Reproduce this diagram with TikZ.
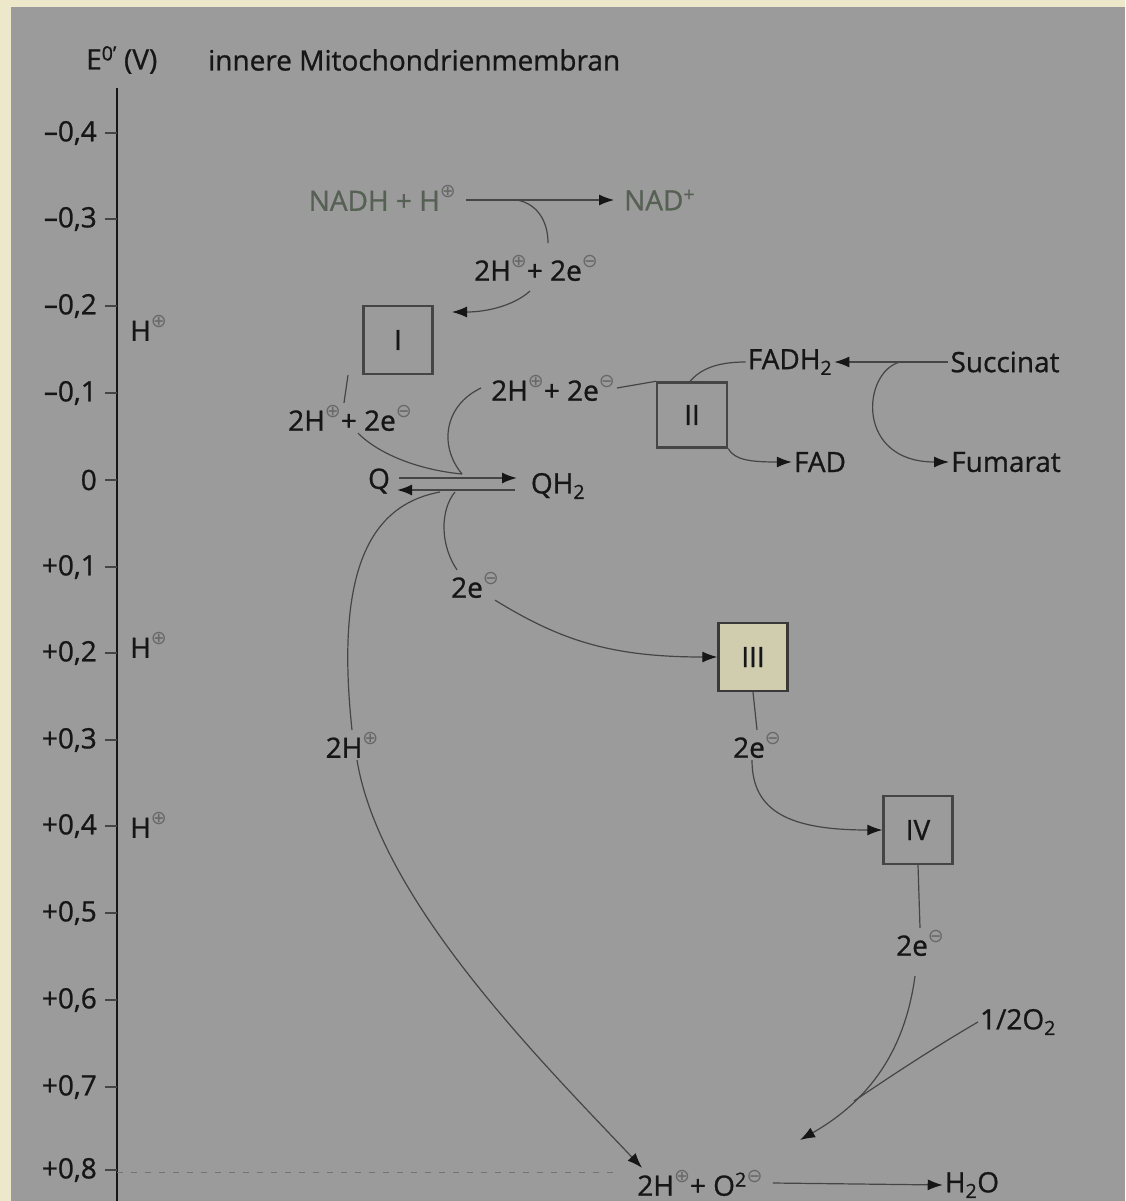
\documentclass[tikz,border=0pt]{standalone}
\usepackage{fontspec}
\setmainfont{Open Sans}[FakeBold=0.9]
\newfontfamily\symfont{DejaVu Sans}
\usetikzlibrary{arrows.meta}
\definecolor{beige}{HTML}{EDE8CA}
\definecolor{panel}{HTML}{9B9B9B}
\definecolor{ink}{HTML}{161616}
\definecolor{faint}{HTML}{566054}
\definecolor{boxIII}{HTML}{CFCDAE}
\newcommand\ppos{\raisebox{0.48em}{\fontsize{19}{19}\symfont\color{ink!65}⊕}}
\newcommand\nneg{\raisebox{0.48em}{\fontsize{19}{19}\symfont\color{ink!65}⊖}}
\tikzset{
  lab/.style={font=\fontsize{28}{32}\selectfont, text=ink, inner sep=2pt},
  cx/.style={draw=ink!80, line width=2.4pt, fill=panel, minimum width=69pt, minimum height=68pt, font=\fontsize{28}{32}\selectfont, text=ink},
  con/.style={draw=ink!80, line width=1.2pt},
  arr/.style={con, -{Latex[length=15pt,width=11pt,color=ink]}},
  tick/.style={draw=ink!80, line width=1.3pt}
}
\begin{document}
\begin{tikzpicture}[x=1pt,y=-1pt]
\fill[beige] (0,0) rectangle (1125,1201);
\fill[panel] (11,7) rectangle (1125,1201);
\useasboundingbox (0,0) rectangle (1125,1201);
% axis
\draw[ink, line width=2.5pt] (117,88) -- (117,1201);
\foreach \y/\t in {133/{–0,4},219/{–0,3},306/{–0,2},393/{–0,1},480/{0},567/{+0,1},653/{+0,2},740/{+0,3},826/{+0,4},913/{+0,5},1000/{+0,6},1087/{+0,7},1170/{+0,8}}{
  \draw[tick] (105,\y) -- (117,\y);
  \node[lab, anchor=east] at (99,\y) {\t};
}
\node[lab, anchor=west] (eh) at (84,60) {E\textsuperscript{0'} (V)};
\node[lab, anchor=west] (mem) at (206,60) {innere Mitochondrienmembran};
\node[lab, anchor=west] (hp1) at (128,328) {H\ppos};
\node[lab, anchor=west] (hp2) at (128,645) {H\ppos};
\node[lab, anchor=west] (hp3) at (128,825) {H\ppos};
% dashed reference line
\draw[ink!60, line width=1pt, dash pattern=on 6pt off 8pt] (117,1172) -- (615,1172);

% nodes
\node[lab, text=faint, anchor=east] (nadh) at (458,198) {NADH + H\ppos};
\node[lab, text=faint, anchor=west] (nadp) at (622,200) {NAD\textsuperscript{+}};
\node[lab] (e1) at (536,268) {2H\ppos + 2e\nneg};
\node[cx] (I) at (398,340) {I};
\node[lab] (e2) at (350,418) {2H\ppos + 2e\nneg};
\node[lab] (e3) at (553,388) {2H\ppos + 2e\nneg};
\node[cx, minimum width=70pt, minimum height=65pt] (II) at (692,415) {II};
\node[lab] (fadh) at (790,362) {FADH\textsubscript{2}};
\node[lab] (succ) at (1005,362) {Succinat};
\node[lab] (fad) at (820,462) {FAD};
\node[lab] (fum) at (1006,462) {Fumarat};
\node[lab] (Q) at (379,481) {Q};
\node[lab] (QH) at (558,486) {QH\textsubscript{2}};
\node[lab] (e4) at (475,585) {2e\nneg};
\node[cx, fill=boxIII, draw=ink!85] (III) at (753,657) {III};
\node[lab] (e5) at (757,745) {2e\nneg};
\node[cx] (IV) at (918,830) {IV};
\node[lab] (e6) at (920,943) {2e\nneg};
\node[lab] (o2) at (1018,1022) {1/2O\textsubscript{2}};
\node[lab] (h2) at (352,745) {2H\ppos};
\node[lab] (prod) at (700,1183) {2H\ppos + O\textsuperscript{2}\nneg};
\node[lab] (h2o) at (972,1185) {H\textsubscript{2}O};

% coordinates
\coordinate (b1) at (517,200);
\coordinate (b2) at (548,243);
\coordinate (b3) at (530,291);
\coordinate (b4) at (452,312);
\coordinate (qa) at (399,478);
\coordinate (qb) at (517,478);
\coordinate (qc) at (515,490);
\coordinate (qd) at (397,490);
\coordinate (m1) at (462,474);
\coordinate (m2) at (455,492);
\coordinate (m3) at (440,492);
\coordinate (s1) at (900,362);
\coordinate (e6a) at (915,976);
\coordinate (tip) at (800,1140);
\coordinate (z1) at (854,1101);

% NADH branch
\draw[arr] (nadh.east) ++(8,2) -- ([xshift=-8pt]nadp.west |- 0,200);
\draw[con] (b1) .. controls (538,204) and (548,222) .. (b2);
\draw[arr] (b3) .. controls (516,304) and (490,312) .. (b4);
% I -> e2 -> Q
\draw[con] ([xshift=-50pt]I.south) -- ([xshift=-6pt]e2.north);
\draw[con] ([xshift=8pt]e2.south) .. controls (380,455) and (420,470) .. (m1);
% Q <-> QH2
\draw[arr, line width=1.8pt] (qa) -- (qb);
\draw[arr, line width=1.8pt] (qc) -- (qd);
% e3
\draw[con] (e3.east) -- (II.north west);
\draw[con] ([xshift=-8pt]e3.west) .. controls (445,405) and (438,445) .. (m1);
\draw[con] ([xshift=-2pt]II.north) .. controls (700,370) and (715,362) .. (fadh.west);
\draw[arr] (succ.west) -- (fadh.east);
\draw[arr] (s1) .. controls (862,372) and (855,462) .. (fum.west);
\draw[arr] (II.south east) .. controls (735,460) and (750,462) .. (fad.west);
% to III
\draw[con] (m2) .. controls (440,510) and (440,545) .. ([xshift=-18pt]e4.north);
\draw[arr] ([xshift=20pt]e4.south) .. controls (560,640) and (610,657) .. (III.west);
% III -> IV
\draw[con] (III.south) -- (e5.north);
\draw[arr] ([xshift=-5pt]e5.south) .. controls (752,812) and (790,830) .. (IV.west);
% IV -> O
\draw[con] (IV.south) -- (e6.north);
\draw[arr] (e6a) .. controls (905,1050) and (870,1100) .. (tip);
\draw[con] (o2.west) .. controls (930,1050) and (885,1080) .. (z1);
% 2H+ path
\draw[con] (m3) .. controls (370,505) and (335,570) .. (h2.north);
\draw[arr] ([xshift=5pt]h2.south) .. controls (380,900) and (540,1060) .. ([xshift=-58pt]prod.north);
% product
\draw[arr] (prod.east) ++(8,0) -- (h2o.west);
\end{tikzpicture}
\end{document}
